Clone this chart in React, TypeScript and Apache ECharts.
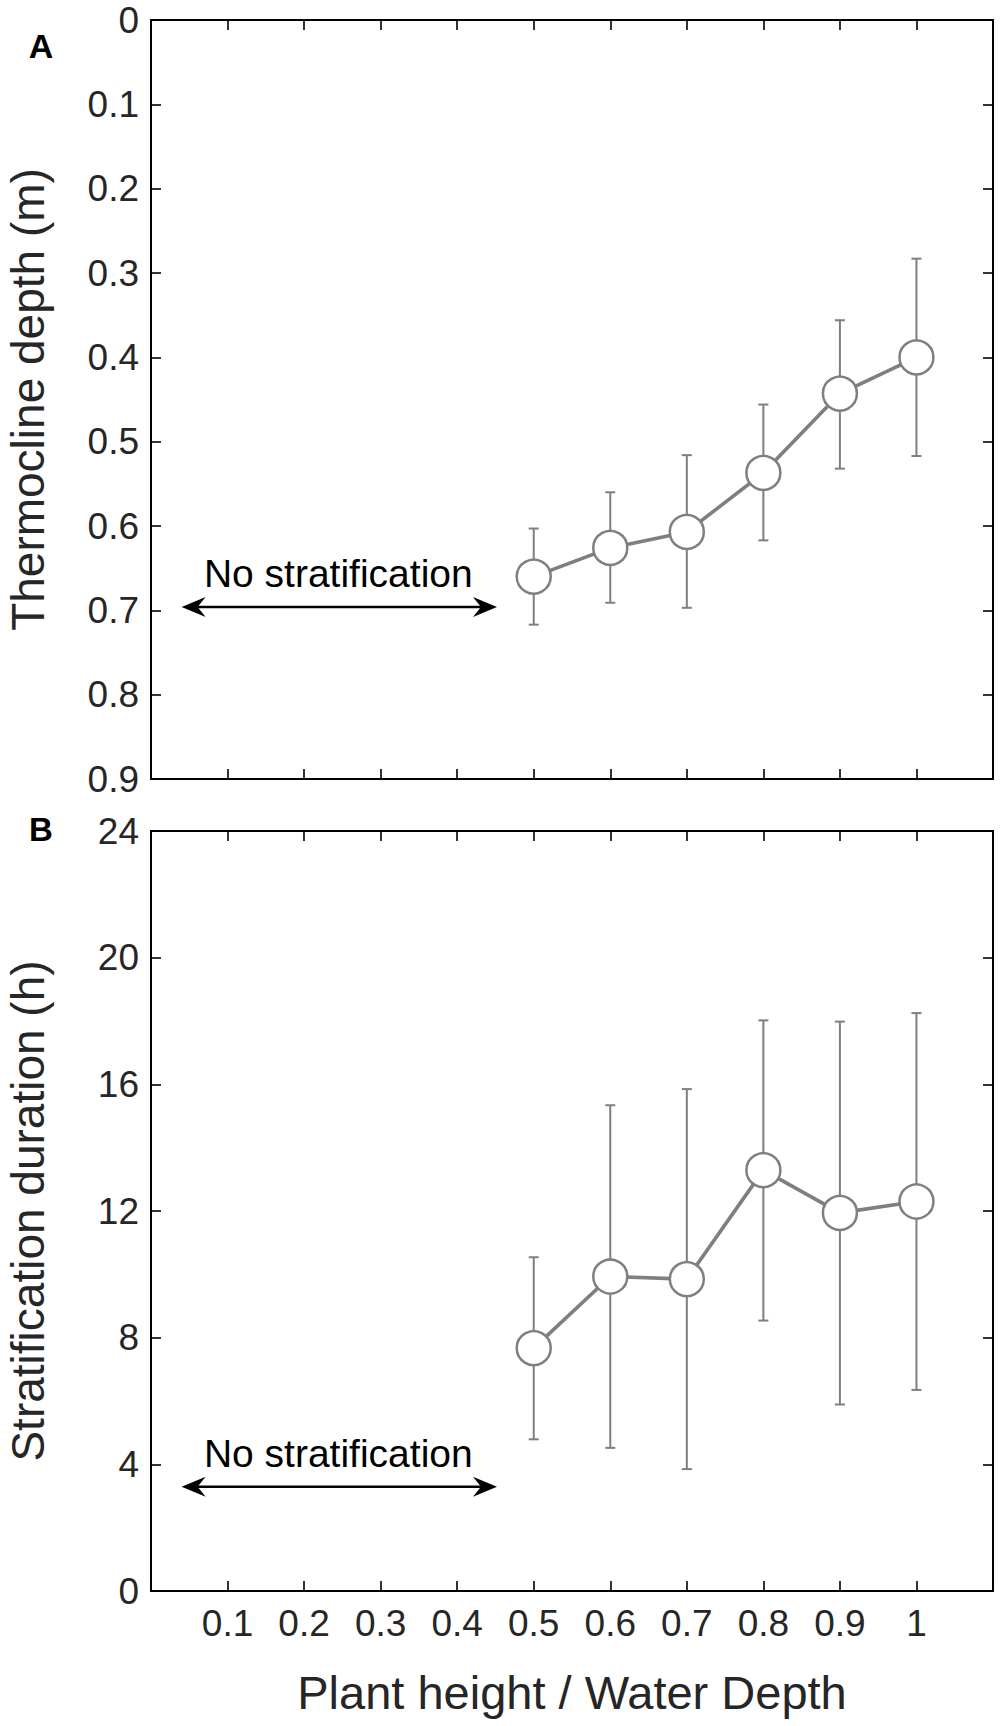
import React, { useEffect, useRef } from "react";
import * as echarts from "echarts";

// ---- data ----
const ratio = [0.5, 0.6, 0.7, 0.8, 0.9, 1.0];
const depthMean = [0.66, 0.626, 0.607, 0.537, 0.443, 0.4];
const depthLow = [0.603, 0.56, 0.516, 0.456, 0.356, 0.283];
const depthHigh = [0.717, 0.691, 0.697, 0.617, 0.532, 0.517];
const durMean = [7.67, 9.93, 9.85, 13.29, 11.94, 12.3];
const durLow = [4.79, 4.52, 3.85, 8.54, 5.89, 6.35];
const durHigh = [10.54, 15.34, 15.85, 18.02, 17.98, 18.25];

const xTickLabels = ["", "0.1", "0.2", "0.3", "0.4", "0.5", "0.6", "0.7", "0.8", "0.9", "1", ""];
const depthTickLabels = ["0", "0.1", "0.2", "0.3", "0.4", "0.5", "0.6", "0.7", "0.8", "0.9"];
const durTickLabels = ["0", "4", "8", "12", "16", "20", "24"];

// no-stratification arrows: [xStart, xEnd, y]
const arrowA = [0.04, 0.452, 0.696];
const arrowB = [0.04, 0.452, 3.29];
const noStratText = "No stratification";

const FONT = "'Liberation Sans', Arial, Helvetica, sans-serif";
const GRAY = "#7f7f7f";
const TEXT = "#262626";

function errorBarRender(params: any, api: any) {
  const x = api.value(0);
  const p1 = api.coord([x, api.value(1)]);
  const p2 = api.coord([x, api.value(2)]);
  const cap = 5;
  const style = { stroke: GRAY, lineWidth: 2 };
  return {
    type: "group",
    children: [
      { type: "line", shape: { x1: p1[0], y1: p1[1], x2: p2[0], y2: p2[1] }, style },
      { type: "line", shape: { x1: p1[0] - cap, y1: p1[1], x2: p1[0] + cap, y2: p1[1] }, style },
      { type: "line", shape: { x1: p2[0] - cap, y1: p2[1], x2: p2[0] + cap, y2: p2[1] }, style },
    ],
  };
}

function arrowRender(params: any, api: any) {
  const y = api.value(2);
  const a = api.coord([api.value(0), y]);
  const b = api.coord([api.value(1), y]);
  const L = 24;
  const H = 10;
  const N = 16;
  const cx = (a[0] + b[0]) / 2;
  return {
    type: "group",
    children: [
      {
        type: "line",
        shape: { x1: a[0] + N, y1: a[1], x2: b[0] - N, y2: b[1] },
        style: { stroke: "#000", lineWidth: 2.4 },
      },
      {
        type: "polygon",
        shape: { points: [[a[0], a[1]], [a[0] + L, a[1] - H], [a[0] + N, a[1]], [a[0] + L, a[1] + H]] },
        style: { fill: "#000" },
      },
      {
        type: "polygon",
        shape: { points: [[b[0], b[1]], [b[0] - L, b[1] - H], [b[0] - N, b[1]], [b[0] - L, b[1] + H]] },
        style: { fill: "#000" },
      },
      {
        type: "text",
        style: {
          text: noStratText,
          x: cx - 1,
          y: a[1] - 33,
          textAlign: "center",
          textVerticalAlign: "middle",
          font: `39px ${FONT}`,
          fill: "#000",
        },
      },
    ],
  };
}

function tickIndex(v: number, step: number) {
  return Math.round(v / step);
}

export default function App() {
  const ref = useRef<HTMLDivElement>(null);

  useEffect(() => {
    document.body.style.margin = "0";
    if (!ref.current) return;
    const chart = echarts.init(ref.current, null, { renderer: "svg" });

    const axisLine = { show: true, onZero: false, lineStyle: { color: "#000", width: 2 } };
    const axisTick = { show: true, inside: true, length: 10, lineStyle: { color: "#000", width: 1.6 } };
    const xBase = {
      type: "value",
      min: 0,
      max: 1.1,
      interval: 0.1,
      axisLine,
      axisTick,
      splitLine: { show: false },
    };
    const labelStyle = { fontSize: 37, fontFamily: FONT, color: TEXT, margin: 12 };
    const titleStyle = { fontSize: 47, fontFamily: FONT, color: TEXT };
    const yTitleStyle = { fontSize: 46, fontFamily: FONT, color: TEXT };

    const option: any = {
      animation: false,
      backgroundColor: "#fff",
      grid: [
        { left: 151, width: 842, top: 20, height: 759, containLabel: false, outerBoundsMode: "none" },
        { left: 151, width: 842, top: 831, height: 760, containLabel: false, outerBoundsMode: "none" },
      ],
      xAxis: [
        { ...xBase, gridIndex: 0, position: "bottom", axisLabel: { show: false } },
        { ...xBase, gridIndex: 0, position: "top", axisLabel: { show: false } },
        {
          ...xBase,
          gridIndex: 1,
          position: "bottom",
          axisLabel: {
            show: true,
            ...labelStyle,
            margin: 14,
            formatter: (v: number) => xTickLabels[tickIndex(v, 0.1)] ?? "",
          },
          name: "Plant height / Water Depth",
          nameLocation: "middle",
          nameGap: 78,
          nameTextStyle: titleStyle,
        },
        { ...xBase, gridIndex: 1, position: "top", axisLabel: { show: false } },
      ],
      yAxis: [
        {
          type: "value",
          gridIndex: 0,
          position: "left",
          inverse: true,
          min: 0,
          max: 0.9,
          interval: 0.1,
          axisLine,
          axisTick,
          splitLine: { show: false },
          axisLabel: {
            ...labelStyle,
            formatter: (v: number) => depthTickLabels[tickIndex(v, 0.1)] ?? "",
          },
          name: "Thermocline depth (m)",
          nameLocation: "middle",
          nameRotate: 90,
          nameGap: 100,
          nameTextStyle: yTitleStyle,
        },
        {
          type: "value",
          gridIndex: 0,
          position: "right",
          inverse: true,
          min: 0,
          max: 0.9,
          interval: 0.1,
          axisLine,
          axisTick,
          splitLine: { show: false },
          axisLabel: { show: false },
        },
        {
          type: "value",
          gridIndex: 1,
          position: "left",
          min: 0,
          max: 24,
          interval: 4,
          axisLine,
          axisTick,
          splitLine: { show: false },
          axisLabel: {
            ...labelStyle,
            formatter: (v: number) => durTickLabels[tickIndex(v, 4)] ?? "",
          },
          name: "Stratification duration (h)",
          nameLocation: "middle",
          nameRotate: 90,
          nameGap: 100,
          nameTextStyle: yTitleStyle,
        },
        {
          type: "value",
          gridIndex: 1,
          position: "right",
          min: 0,
          max: 24,
          interval: 4,
          axisLine,
          axisTick,
          splitLine: { show: false },
          axisLabel: { show: false },
        },
      ],
      graphic: [
        {
          type: "text",
          style: { text: "A", x: 41, y: 46, textAlign: "center", textVerticalAlign: "middle", font: `bold 34px ${FONT}`, fill: "#000" },
        },
        {
          type: "text",
          style: { text: "B", x: 41, y: 829, textAlign: "center", textVerticalAlign: "middle", font: `bold 33px ${FONT}`, fill: "#000" },
        },
      ],
      series: [
        {
          type: "custom",
          xAxisIndex: 0,
          yAxisIndex: 0,
          renderItem: errorBarRender,
          data: ratio.map((x, i) => [x, depthLow[i], depthHigh[i]]),
          z: 1,
          silent: true,
        },
        {
          type: "line",
          xAxisIndex: 0,
          yAxisIndex: 0,
          data: ratio.map((x, i) => [x, depthMean[i]]),
          symbol: "circle",
          symbolSize: 34,
          itemStyle: { color: "#fff", borderColor: GRAY, borderWidth: 2.5 },
          lineStyle: { color: GRAY, width: 3.6 },
          z: 3,
        },
        {
          type: "custom",
          xAxisIndex: 0,
          yAxisIndex: 0,
          renderItem: arrowRender,
          data: [arrowA],
          z: 2,
          silent: true,
        },
        {
          type: "custom",
          xAxisIndex: 2,
          yAxisIndex: 2,
          renderItem: errorBarRender,
          data: ratio.map((x, i) => [x, durLow[i], durHigh[i]]),
          z: 1,
          silent: true,
        },
        {
          type: "line",
          xAxisIndex: 2,
          yAxisIndex: 2,
          data: ratio.map((x, i) => [x, durMean[i]]),
          symbol: "circle",
          symbolSize: 34,
          itemStyle: { color: "#fff", borderColor: GRAY, borderWidth: 2.5 },
          lineStyle: { color: GRAY, width: 3.6 },
          z: 3,
        },
        {
          type: "custom",
          xAxisIndex: 2,
          yAxisIndex: 2,
          renderItem: arrowRender,
          data: [arrowB],
          z: 2,
          silent: true,
        },
      ],
    };

    chart.setOption(option);
    return () => chart.dispose();
  }, []);

  return (
    <div
      ref={ref}
      style={{ position: "absolute", left: 0, top: 0, width: 1000, height: 1726, background: "#fff" }}
    />
  );
}
